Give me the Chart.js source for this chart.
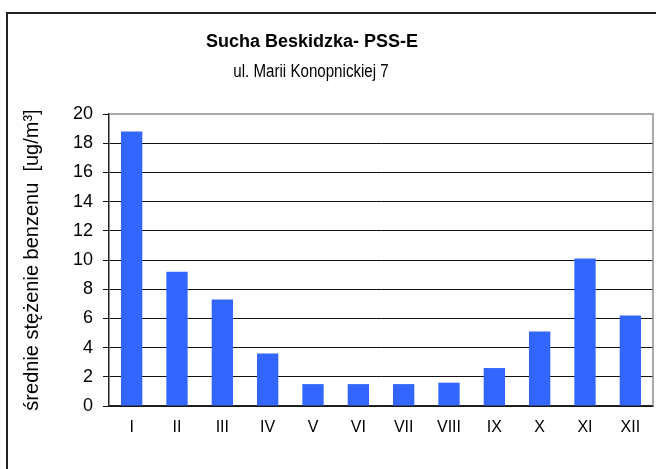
<!DOCTYPE html>
<html>
<head>
<meta charset="utf-8">
<script src="https://cdn.jsdelivr.net/npm/chart.js@4.4.1/dist/chart.umd.min.js"></script>
<style>
  html, body { margin: 0; padding: 0; background: #fff; }
  #wrap { width: 656px; height: 469px; }
</style>
</head>
<body>
<div id="wrap"><canvas id="grafica" width="656" height="469"></canvas></div>
<script>
// DANE
const miesiace = ['I', 'II', 'III', 'IV', 'V', 'VI', 'VII', 'VIII', 'IX', 'X', 'XI', 'XII'];
const benzen = [18.8, 9.2, 7.3, 3.6, 1.5, 1.5, 1.5, 1.6, 2.6, 5.1, 10.1, 6.2];
const tytul = 'Sucha Beskidzka- PSS-E';
const podtytul = 'ul. Marii Konopnickiej 7';
const tytulOsiY = 'średnie stężenie benzenu  [ug/m³]';

const CZCIONKA = "'Liberation Sans', Arial, sans-serif";

// ramka wykresu + tytuly
const naglowek = {
    id: 'naglowek',
    beforeDraw(chart) {
        const ctx = chart.ctx;
        ctx.save();
        ctx.fillStyle = '#fff';
        ctx.fillRect(0, 0, chart.width, chart.height);
        ctx.strokeStyle = '#222';
        ctx.lineWidth = 2;
        ctx.beginPath();
        ctx.moveTo(7, chart.height + 5);
        ctx.lineTo(7, 13);
        ctx.lineTo(chart.width + 5, 13);
        ctx.stroke();
        ctx.restore();
    },
    afterDraw(chart) {
        const ctx = chart.ctx;
        const a = chart.chartArea;
        ctx.save();
        // prawa i gorna krawedz obszaru wykresu
        ctx.strokeStyle = '#8c8c8c';
        ctx.lineWidth = 1.5;
        ctx.beginPath();
        ctx.moveTo(a.left, a.top);
        ctx.lineTo(a.right, a.top);
        ctx.lineTo(a.right, a.bottom);
        ctx.stroke();

        ctx.fillStyle = '#000';
        ctx.textAlign = 'center';
        ctx.textBaseline = 'alphabetic';
        ctx.font = 'bold 18px ' + CZCIONKA;
        ctx.fillText(tytul, 312, 47);
        // podtytul troche zwezony, jak w oryginale
        ctx.font = '18px ' + CZCIONKA;
        ctx.translate(311, 77);
        ctx.scale(0.84, 1);
        ctx.fillText(podtytul, 0, 0);
        ctx.restore();
    }
};

new Chart(document.getElementById('grafica').getContext('2d'), {
    type: 'bar',
    data: {
        labels: miesiace,
        datasets: [{
            data: benzen,
            backgroundColor: '#3366ff',
            borderWidth: 0,
            barPercentage: 0.47,
            categoryPercentage: 1
        }]
    },
    options: {
        responsive: false,
        animation: false,
        devicePixelRatio: 1,
        layout: { padding: { top: 114, left: 0, right: 3, bottom: 0 } },
        plugins: {
            legend: { display: false },
            tooltip: { enabled: false }
        },
        scales: {
            x: {
                afterFit(scale) { scale.height = 63; },
                grid: { display: false, drawTicks: false },
                border: { display: true, color: '#222', width: 1.5 },
                ticks: {
                    color: '#000',
                    padding: 12,
                    font: { family: CZCIONKA, size: 16 }
                }
            },
            y: {
                min: 0,
                max: 20,
                afterFit(scale) { scale.width = 109; },
                grid: {
                    color: (c) => c.tick && c.tick.value === 20 ? 'rgba(0,0,0,0)' : '#111',
                    lineWidth: 1,
                    tickColor: '#111',
                    tickLength: 6
                },
                border: { display: true, color: '#222', width: 1.5 },
                ticks: {
                    stepSize: 2,
                    color: '#000',
                    padding: 10,
                    font: { family: CZCIONKA, size: 18 }
                },
                title: {
                    display: true,
                    text: tytulOsiY,
                    color: '#000',
                    padding: { top: 20, bottom: 0 },
                    font: { family: CZCIONKA, size: 20 }
                }
            }
        }
    },
    plugins: [naglowek]
});
</script>
</body>
</html>
